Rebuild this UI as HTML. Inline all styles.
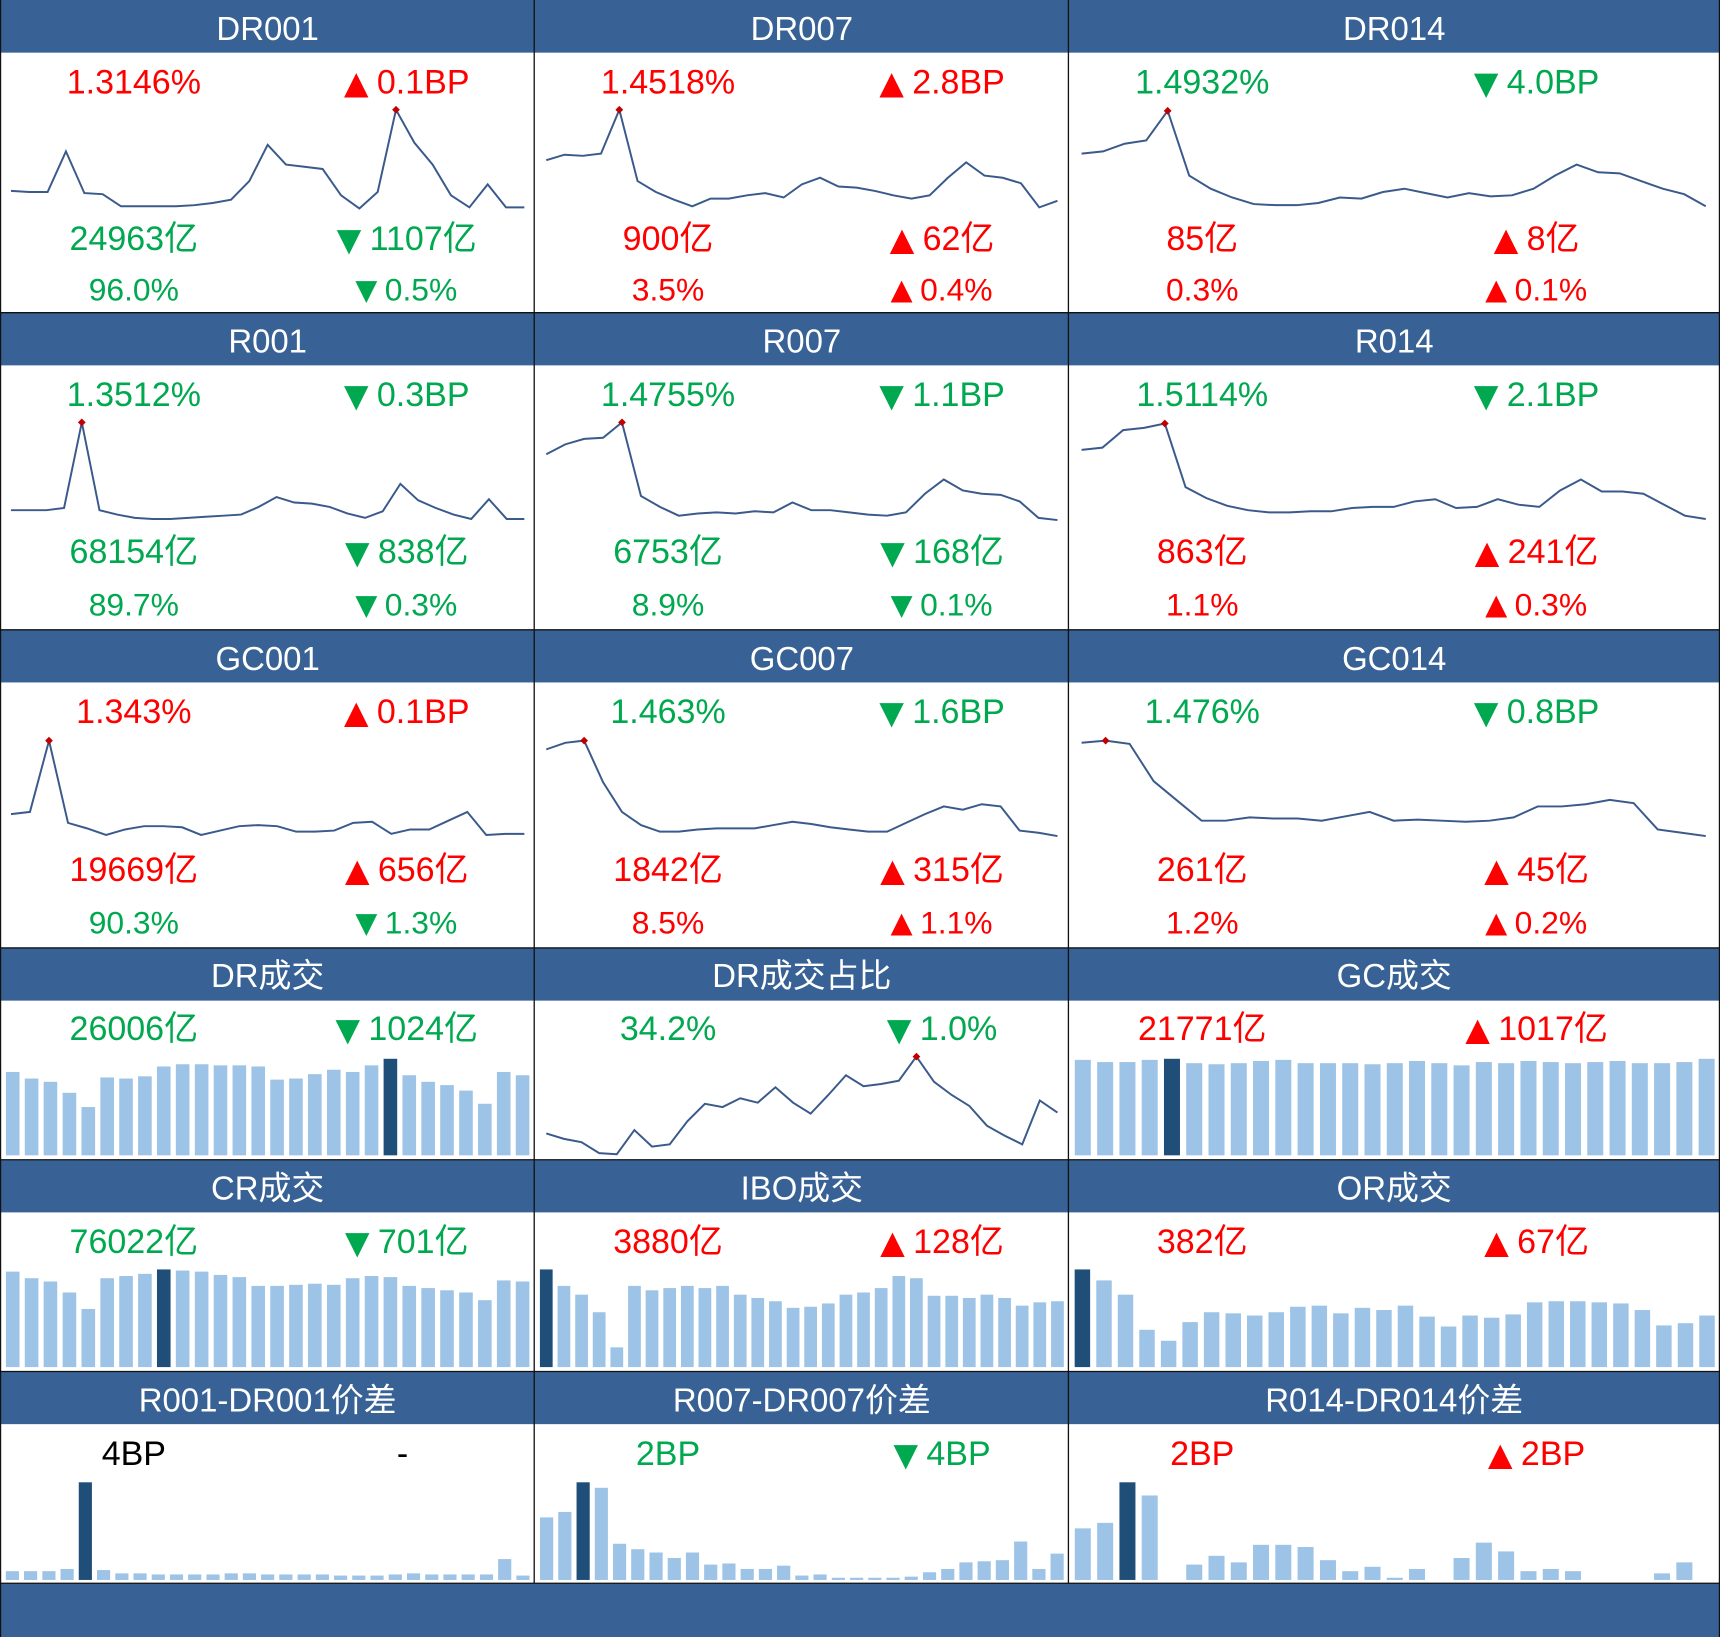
<!DOCTYPE html>
<html><head><meta charset="utf-8"><style>
html,body{margin:0;padding:0;background:#fff;}
svg{display:block;}
text{font-family:"Liberation Sans","Noto Sans CJK SC",sans-serif;}
.h{fill:#fff;font-size:30px;text-anchor:middle;dominant-baseline:central;}
.v{font-size:31px;text-anchor:middle;dominant-baseline:central;}
.s{font-size:29px;text-anchor:middle;dominant-baseline:central;}
.t{font-size:38px;}
.s .t{font-size:34px;}
.r{fill:#ff0000}.g{fill:#00a850}.k{fill:#000}
</style></head><body>
<svg id="chart" width="1720" height="1637" viewBox="0 0 1568 1492" preserveAspectRatio="none" xmlns="http://www.w3.org/2000/svg">
<rect x="0" y="0" width="1568" height="1492" fill="#fff"/>
<g fill="#386295">
<rect x="0" y="0" width="1568" height="48"/>
<rect x="0" y="285" width="1568" height="48"/>
<rect x="0" y="574" width="1568" height="48"/>
<rect x="0" y="864" width="1568" height="48"/>
<rect x="0" y="1057" width="1568" height="48"/>
<rect x="0" y="1250" width="1568" height="48"/>
<rect x="0" y="1443" width="1568" height="49"/>
</g>
<g stroke="#111" stroke-width="1.2">
<line x1="487" y1="0" x2="487" y2="1443"/><line x1="974" y1="0" x2="974" y2="1443"/>
<line x1="0" y1="285" x2="1568" y2="285"/><line x1="0" y1="574" x2="1568" y2="574"/>
<line x1="0" y1="864" x2="1568" y2="864"/><line x1="0" y1="1057" x2="1568" y2="1057"/>
<line x1="0" y1="1250" x2="1568" y2="1250"/><line x1="0" y1="1443" x2="1568" y2="1443"/>
<line x1="0.5" y1="0" x2="0.5" y2="1492"/><line x1="1567.5" y1="0" x2="1567.5" y2="1492"/>
</g>
<g>
<text class="h" x="244" y="26">DR001</text>
<text class="h" x="731" y="26">DR007</text>
<text class="h" x="1271" y="26">DR014</text>
<text class="h" x="244" y="311">R001</text>
<text class="h" x="731" y="311">R007</text>
<text class="h" x="1271" y="311">R014</text>
<text class="h" x="244" y="600">GC001</text>
<text class="h" x="731" y="600">GC007</text>
<text class="h" x="1271" y="600">GC014</text>
<text class="h" x="244" y="889">DR成交</text>
<text class="h" x="731" y="889">DR成交占比</text>
<text class="h" x="1271" y="889">GC成交</text>
<text class="h" x="244" y="1083">CR成交</text>
<text class="h" x="731" y="1083">IBO成交</text>
<text class="h" x="1271" y="1083">OR成交</text>
<text class="h" x="244" y="1276">R001-DR001价差</text>
<text class="h" x="731" y="1276">R007-DR007价差</text>
<text class="h" x="1271" y="1276">R014-DR014价差</text>
</g>
<g>
<text class="v r" x="122" y="75">1.3146%</text>
<text class="v r" x="367" y="75"><tspan class="t">▲</tspan>0.1BP</text>
<text class="v g" x="122" y="218">24963亿</text>
<text class="v g" x="367" y="218"><tspan class="t">▼</tspan>1107亿</text>
<text class="s g" x="122" y="264">96.0%</text>
<text class="s g" x="367" y="264"><tspan class="t">▼</tspan>0.5%</text>

<text class="v r" x="609" y="75">1.4518%</text>
<text class="v r" x="855" y="75"><tspan class="t">▲</tspan>2.8BP</text>
<text class="v r" x="609" y="218">900亿</text>
<text class="v r" x="855" y="218"><tspan class="t">▲</tspan>62亿</text>
<text class="s r" x="609" y="264">3.5%</text>
<text class="s r" x="855" y="264"><tspan class="t">▲</tspan>0.4%</text>

<text class="v g" x="1096" y="75">1.4932%</text>
<text class="v g" x="1397" y="75"><tspan class="t">▼</tspan>4.0BP</text>
<text class="v r" x="1096" y="218">85亿</text>
<text class="v r" x="1397" y="218"><tspan class="t">▲</tspan>8亿</text>
<text class="s r" x="1096" y="264">0.3%</text>
<text class="s r" x="1397" y="264"><tspan class="t">▲</tspan>0.1%</text>

<text class="v g" x="122" y="360">1.3512%</text>
<text class="v g" x="367" y="360"><tspan class="t">▼</tspan>0.3BP</text>
<text class="v g" x="122" y="503">68154亿</text>
<text class="v g" x="367" y="503"><tspan class="t">▼</tspan>838亿</text>
<text class="s g" x="122" y="551">89.7%</text>
<text class="s g" x="367" y="551"><tspan class="t">▼</tspan>0.3%</text>

<text class="v g" x="609" y="360">1.4755%</text>
<text class="v g" x="855" y="360"><tspan class="t">▼</tspan>1.1BP</text>
<text class="v g" x="609" y="503">6753亿</text>
<text class="v g" x="855" y="503"><tspan class="t">▼</tspan>168亿</text>
<text class="s g" x="609" y="551">8.9%</text>
<text class="s g" x="855" y="551"><tspan class="t">▼</tspan>0.1%</text>

<text class="v g" x="1096" y="360">1.5114%</text>
<text class="v g" x="1397" y="360"><tspan class="t">▼</tspan>2.1BP</text>
<text class="v r" x="1096" y="503">863亿</text>
<text class="v r" x="1397" y="503"><tspan class="t">▲</tspan>241亿</text>
<text class="s r" x="1096" y="551">1.1%</text>
<text class="s r" x="1397" y="551"><tspan class="t">▲</tspan>0.3%</text>

<text class="v r" x="122" y="649">1.343%</text>
<text class="v r" x="367" y="649"><tspan class="t">▲</tspan>0.1BP</text>
<text class="v r" x="122" y="793">19669亿</text>
<text class="v r" x="367" y="793"><tspan class="t">▲</tspan>656亿</text>
<text class="s g" x="122" y="841">90.3%</text>
<text class="s g" x="367" y="841"><tspan class="t">▼</tspan>1.3%</text>

<text class="v g" x="609" y="649">1.463%</text>
<text class="v g" x="855" y="649"><tspan class="t">▼</tspan>1.6BP</text>
<text class="v r" x="609" y="793">1842亿</text>
<text class="v r" x="855" y="793"><tspan class="t">▲</tspan>315亿</text>
<text class="s r" x="609" y="841">8.5%</text>
<text class="s r" x="855" y="841"><tspan class="t">▲</tspan>1.1%</text>

<text class="v g" x="1096" y="649">1.476%</text>
<text class="v g" x="1397" y="649"><tspan class="t">▼</tspan>0.8BP</text>
<text class="v r" x="1096" y="793">261亿</text>
<text class="v r" x="1397" y="793"><tspan class="t">▲</tspan>45亿</text>
<text class="s r" x="1096" y="841">1.2%</text>
<text class="s r" x="1397" y="841"><tspan class="t">▲</tspan>0.2%</text>

<text class="v g" x="122" y="938">26006亿</text>
<text class="v g" x="367" y="938"><tspan class="t">▼</tspan>1024亿</text>
<text class="v g" x="609" y="938">34.2%</text>
<text class="v g" x="855" y="938"><tspan class="t">▼</tspan>1.0%</text>
<text class="v r" x="1096" y="938">21771亿</text>
<text class="v r" x="1397" y="938"><tspan class="t">▲</tspan>1017亿</text>

<text class="v g" x="122" y="1132">76022亿</text>
<text class="v g" x="367" y="1132"><tspan class="t">▼</tspan>701亿</text>
<text class="v r" x="609" y="1132">3880亿</text>
<text class="v r" x="855" y="1132"><tspan class="t">▲</tspan>128亿</text>
<text class="v r" x="1096" y="1132">382亿</text>
<text class="v r" x="1397" y="1132"><tspan class="t">▲</tspan>67亿</text>

<text class="v k" x="122" y="1325">4BP</text>
<text class="v k" x="367" y="1325">-</text>
<text class="v g" x="609" y="1325">2BP</text>
<text class="v g" x="855" y="1325"><tspan class="t">▼</tspan>4BP</text>
<text class="v r" x="1096" y="1325">2BP</text>
<text class="v r" x="1397" y="1325"><tspan class="t">▲</tspan>2BP</text>
</g>
<g id="marks"></g>
</svg>
<script>
// Line series (relative level values)
const dr001Line = [16,15,15,52,14,13,2,2,2,2,3,5,8,25,58,40,38,36,12,0,15,90,60,40,12,1,22,1,1];
const dr007Line = [44,49,48,50,90,25,15,8,2,9,9,12,14,10,22,28,20,19,16,12,9,12,28,42,30,28,23,1,7];
const dr014Line = [50,52,59,62,89,30,18,10,4,3,3,5,10,9,15,18,14,10,14,11,12,18,30,40,33,32,25,18,13,2];
const r001Line = [10,10,10,12,90,10,6,3,2,2,3,4,5,6,13,22,17,16,13,7,3,9,34,19,12,6,2,20,2,2];
const r007Line = [61,70,75,76,90,23,13,5,7,8,7,9,8,17,10,10,8,6,5,8,25,38,28,25,24,18,3,1];
const r014Line = [65,67,83,85,89,31,21,14,10,8,8,9,9,12,13,13,18,20,12,13,20,15,13,28,38,27,27,25,15,5,2];
const gc001Line = [22,24,89,14,9,3,8,11,11,10,3,7,11,12,11,6,6,7,14,15,4,8,8,16,24,3,4,4];
const gc007Line = [81,87,89,51,24,12,6,6,8,9,9,9,12,15,13,10,8,6,6,14,22,29,26,31,29,7,5,2];
const gc014Line = [87,89,86,52,34,16,16,19,18,18,16,20,24,16,17,16,15,16,19,29,29,31,35,32,8,5,2];
const drShareLine = [23,18,15,5,4,26,11,13,34,50,47,55,51,65,51,41,58,76,66,68,71,93,70,58,48,30,21,13,53,42];
// Bar series (relative volumes)
const drVolBars = [76,70,67,57,44,71,70,72,81,83,83,82,82,81,69,70,74,78,76,82,88,73,67,64,59,47,76,73];
const drVolHi = 20;
const gcVolBars = [87,85,85,87,88,84,83,84,86,87,84,84,84,83,84,86,84,82,85,84,86,85,84,85,86,84,84,85,88];
const gcVolHi = 4;
const crVolBars = [87,81,78,68,53,81,83,85,89,88,87,84,82,74,74,75,76,75,81,83,82,74,72,70,68,61,79,78];
const crVolHi = 8;
const iboVolBars = [89,74,66,50,18,74,70,72,74,72,74,66,63,60,54,55,58,66,68,72,83,81,65,65,63,66,63,56,59,60];
const iboVolHi = 0;
const orVolBars = [89,79,66,34,24,41,50,49,47,50,55,56,49,54,52,56,46,37,47,45,48,59,60,60,59,58,52,38,40,47];
const orVolHi = 0;
const sp1Bars = [8,8,8,10,89,9,6,6,5,5,5,5,6,6,5,5,5,5,4,4,4,5,6,5,5,5,5,19,4];
const sp1Hi = 4;
const sp7Bars = [57,62,89,84,33,28,25,20,25,14,15,10,10,13,4,5,2,2,2,2,3,7,10,16,17,18,35,10,24];
const sp7Hi = 2;
const sp14Bars = [47,52,89,77,0,14,22,16,32,32,30,18,8,12,2,10,0,20,34,26,8,10,8,0,0,0,6,16,0];
const sp14Hi = 2;

const NS = 'http://www.w3.org/2000/svg';
const marks = document.getElementById('marks');

function xScale(i, n, x0, x1){ return x0 + (x1 - x0) * i / (n - 1); }
function yScale(v, base){ return base - v; }

function drawLine(vals, x0, x1, base, name){
  const pts = vals.map((v,i)=> xScale(i, vals.length, x0, x1).toFixed(1) + ',' + yScale(v, base).toFixed(1)).join(' ');
  const pl = document.createElementNS(NS,'polyline');
  pl.setAttribute('points', pts);
  pl.setAttribute('fill','none');
  pl.setAttribute('stroke','#3a5a8c');
  pl.setAttribute('stroke-width','1.8');
  
  
  marks.appendChild(pl);
  let mi = 0; vals.forEach((v,i)=>{ if (v > vals[mi]) mi = i; });
  const cx = xScale(mi, vals.length, x0, x1), cy = yScale(vals[mi], base);
  const d = document.createElementNS(NS,'rect');
  d.setAttribute('x', cx-2.5); d.setAttribute('y', cy-2.5);
  d.setAttribute('width', 5); d.setAttribute('height', 5);
  d.setAttribute('fill', '#c00000');
  d.setAttribute('transform', 'rotate(45 '+cx+' '+cy+')');
  
  
  marks.appendChild(d);
}

function drawBars(vals, hi, x0, x1, base, name){
  const n = vals.length, step = (x1 - x0) / n, w = step * 0.72;
  vals.forEach((v,i)=>{
    if (v <= 0) return;
    const r = document.createElementNS(NS,'rect');
    r.setAttribute('x', (x0 + i*step + (step-w)/2).toFixed(1));
    r.setAttribute('y', yScale(v, base).toFixed(1));
    r.setAttribute('width', w.toFixed(1));
    r.setAttribute('height', v);
    r.setAttribute('fill', i === hi ? '#1f4e79' : '#9dc3e6');
    
    
    marks.appendChild(r);
  });
}

drawLine(dr001Line, 10, 478, 190, 'dr001-line');
drawLine(dr007Line, 498, 964, 190, 'dr007-line');
drawLine(dr014Line, 986, 1555, 190, 'dr014-line');
drawLine(r001Line, 10, 478, 475, 'r001-line');
drawLine(r007Line, 498, 964, 475, 'r007-line');
drawLine(r014Line, 986, 1555, 475, 'r014-line');
drawLine(gc001Line, 10, 478, 764, 'gc001-line');
drawLine(gc007Line, 498, 964, 764, 'gc007-line');
drawLine(gc014Line, 986, 1555, 764, 'gc014-line');
drawLine(drShareLine, 498, 964, 1056, 'dr-share-line');

drawBars(drVolBars, drVolHi, 3, 485, 1053, 'dr-volume');
drawBars(gcVolBars, gcVolHi, 977, 1566, 1053, 'gc-volume');
drawBars(crVolBars, crVolHi, 3, 485, 1246, 'cr-volume');
drawBars(iboVolBars, iboVolHi, 490, 972, 1246, 'ibo-volume');
drawBars(orVolBars, orVolHi, 977, 1566, 1246, 'or-volume');
drawBars(sp1Bars, sp1Hi, 3, 485, 1440, 'r001-spread');
drawBars(sp7Bars, sp7Hi, 490, 972, 1440, 'r007-spread');
drawBars(sp14Bars, sp14Hi, 977, 1566, 1440, 'r014-spread');
</script>
</body></html>
